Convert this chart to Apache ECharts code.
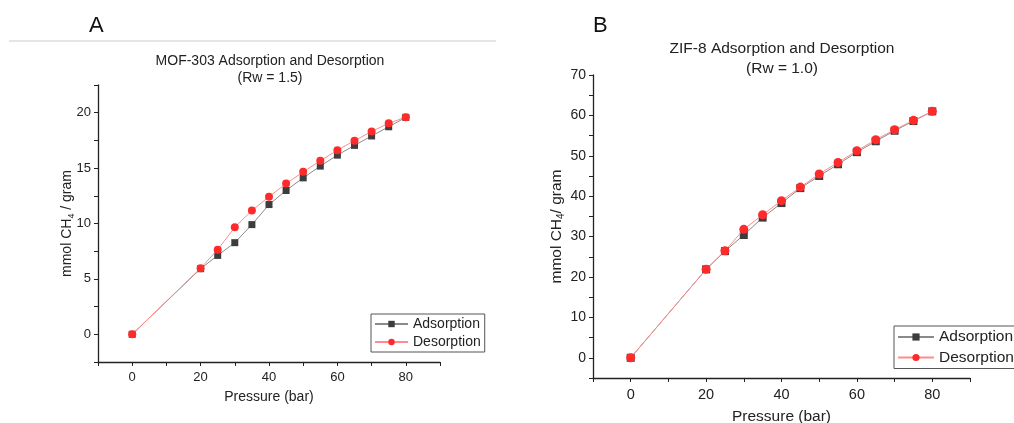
<!DOCTYPE html>
<html>
<head>
<meta charset="utf-8">
<script src="https://cdn.jsdelivr.net/npm/echarts@6/dist/echarts.min.js"></script>
<style>
  html, body { margin: 0; padding: 0; background: #fff; }
  #chart { width: 1014px; height: 423px; }
</style>
</head>
<body>
<div id="chart"></div>
<script>
// pressure points (bar), shared by both panels
const pressure = [0, 20, 25, 30, 35, 40, 45, 50, 55, 60, 65, 70, 75, 80];

// MOF-303 (panel A), mmol CH4 / gram
const mofAds = [0, 5.92, 7.12, 8.27, 9.9, 11.71, 12.98, 14.12, 15.18, 16.17, 17.05, 17.9, 18.73, 19.58];
const mofDes = [0, 5.97, 7.64, 9.66, 11.17, 12.42, 13.6, 14.66, 15.66, 16.62, 17.47, 18.31, 19.04, 19.6];

// ZIF-8 (panel B)
const zifAds = [0, 21.9, 26.4, 30.4, 34.7, 38.3, 42.0, 45.0, 47.9, 50.9, 53.6, 56.2, 58.6, 61.0];
const zifDes = [0, 21.9, 26.5, 31.8, 35.4, 38.9, 42.25, 45.5, 48.35, 51.25, 53.98, 56.46, 58.77, 61.0];

const FONT = '"Liberation Sans", Arial, sans-serif';
const INK = '#222';

const pairs = (ys) => pressure.map((x, i) => [x, ys[i]]);

function xAxisFor(gridIndex, size, gap, margin) {
  return {
    gridIndex, type: 'value', min: -10, max: 90, interval: 10,
    name: 'Pressure (bar)', nameLocation: 'middle', nameGap: gap,
    nameTextStyle: { fontFamily: FONT, fontSize: size + 1, color: INK },
    axisLine: { onZero: false, lineStyle: { color: INK, width: 1.3 } },
    axisTick: { length: 4, lineStyle: { color: INK } },
    axisLabel: {
      fontFamily: FONT, fontSize: size, color: INK, margin,
      formatter: v => (v % 20 === 0 ? String(v) : '')
    },
    splitLine: { show: false }
  };
}

function seriesFor(idx, name, ys, symbol, size, lineColor, dotColor, z) {
  return {
    name, type: 'line', xAxisIndex: idx, yAxisIndex: idx,
    data: pairs(ys), symbol, symbolSize: size, z,
    lineStyle: { color: lineColor, width: 1 },
    itemStyle: { color: dotColor },
    emphasis: { disabled: true },
    animation: false
  };
}

const chart = echarts.init(document.getElementById('chart'));

chart.setOption({
  animation: false,
  title: [
    {
      text: 'MOF-303 Adsorption and Desorption\n(Rw = 1.5)',
      left: 270, top: 53, textAlign: 'center', padding: 0,
      textStyle: { fontFamily: FONT, fontSize: 14, fontWeight: 'normal', color: INK, lineHeight: 17 }
    },
    {
      text: 'ZIF-8 Adsorption and Desorption\n(Rw = 1.0)',
      left: 782, top: 39, textAlign: 'center', padding: 0,
      textStyle: { fontFamily: FONT, fontSize: 15.5, fontWeight: 'normal', color: INK, lineHeight: 20 }
    }
  ],
  graphic: [
    { type: 'text', left: 89, top: 15, style: { text: 'A', font: '22px ' + FONT, fill: '#111' } },
    { type: 'text', left: 593, top: 15, style: { text: 'B', font: '22px ' + FONT, fill: '#111' } },
    { type: 'line', shape: { x1: 9, y1: 41, x2: 496, y2: 41 }, style: { stroke: '#dcdcdc', lineWidth: 1.5 } }
  ],
  grid: [
    { left: 98, top: 85, width: 342, height: 277, outerBoundsMode: 'none', containLabel: false },
    { left: 593, top: 75, width: 377, height: 303, outerBoundsMode: 'none', containLabel: false }
  ],
  legend: [
    {
      left: 371, top: 314, orient: 'vertical',
      data: ['Adsorption', 'Desorption'],
      itemWidth: 33, itemHeight: 8, itemGap: 4, padding: [3, 4, 3, 3],
      borderColor: '#555', borderWidth: 1, borderRadius: 0,
      textStyle: { fontFamily: FONT, fontSize: 14, color: INK },
      selectedMode: false
    },
    {
      left: 894, top: 326, orient: 'vertical',
      data: ['Adsorption', 'Desorption'],
      itemWidth: 36, itemHeight: 9, itemGap: 4.5, padding: [3, 4, 3, 3],
      borderColor: '#555', borderWidth: 1, borderRadius: 0,
      textStyle: { fontFamily: FONT, fontSize: 15.5, color: INK },
      selectedMode: false
    }
  ],
  xAxis: [xAxisFor(0, 13, 28, 9), xAxisFor(1, 14.5, 31, 9)],
  yAxis: [
    {
      gridIndex: 0, type: 'value', min: -2.5, max: 22.5, interval: 2.5,
      name: '{a|mmol CH}{s|4}{a| / gram}', nameLocation: 'middle', nameGap: 22,
      nameMoveOverlap: false,
      nameTextStyle: {
        rich: {
          a: { fontFamily: FONT, fontSize: 14, color: INK, lineHeight: 18 },
          s: { fontFamily: FONT, fontSize: 9, color: INK, lineHeight: 18, verticalAlign: 'bottom', padding: [6, 0, 0, 0] }
        }
      },
      axisLine: { onZero: false, lineStyle: { color: INK, width: 1.3 } },
      axisTick: { length: 4, lineStyle: { color: INK } },
      axisLabel: {
        fontFamily: FONT, fontSize: 13, color: INK, margin: 7,
        formatter: v => (v % 5 === 0 ? String(v) : '')
      },
      splitLine: { show: false }
    },
    {
      gridIndex: 1, type: 'value', min: -5, max: 70, interval: 5,
      name: '{a|mmol CH}{s|4}{a|/ gram}', nameLocation: 'middle', nameGap: 26,
      nameTextStyle: {
        rich: {
          a: { fontFamily: FONT, fontSize: 15.5, color: INK, lineHeight: 20 },
          s: { fontFamily: FONT, fontSize: 10, color: INK, lineHeight: 20, verticalAlign: 'bottom', padding: [7, 0, 0, 0] }
        }
      },
      axisLine: { onZero: false, lineStyle: { color: INK, width: 1.3 } },
      axisTick: { length: 4, lineStyle: { color: INK } },
      axisLabel: {
        fontFamily: FONT, fontSize: 14, color: INK, margin: 7,
        formatter: v => (v % 10 === 0 ? String(v) : '')
      },
      splitLine: { show: false }
    }
  ],
  series: [
    seriesFor(0, 'Adsorption', mofAds, 'rect', 7, '#8a8a8a', '#3d3d3d', 2),
    seriesFor(0, 'Desorption', mofDes, 'circle', 8, '#ff8c8c', '#ff2b2b', 3),
    seriesFor(1, 'Adsorption', zifAds, 'rect', 8, '#8a8a8a', '#3d3d3d', 2),
    seriesFor(1, 'Desorption', zifDes, 'circle', 9, '#ff8c8c', '#ff2b2b', 3)
  ]
});
</script>
</body>
</html>
